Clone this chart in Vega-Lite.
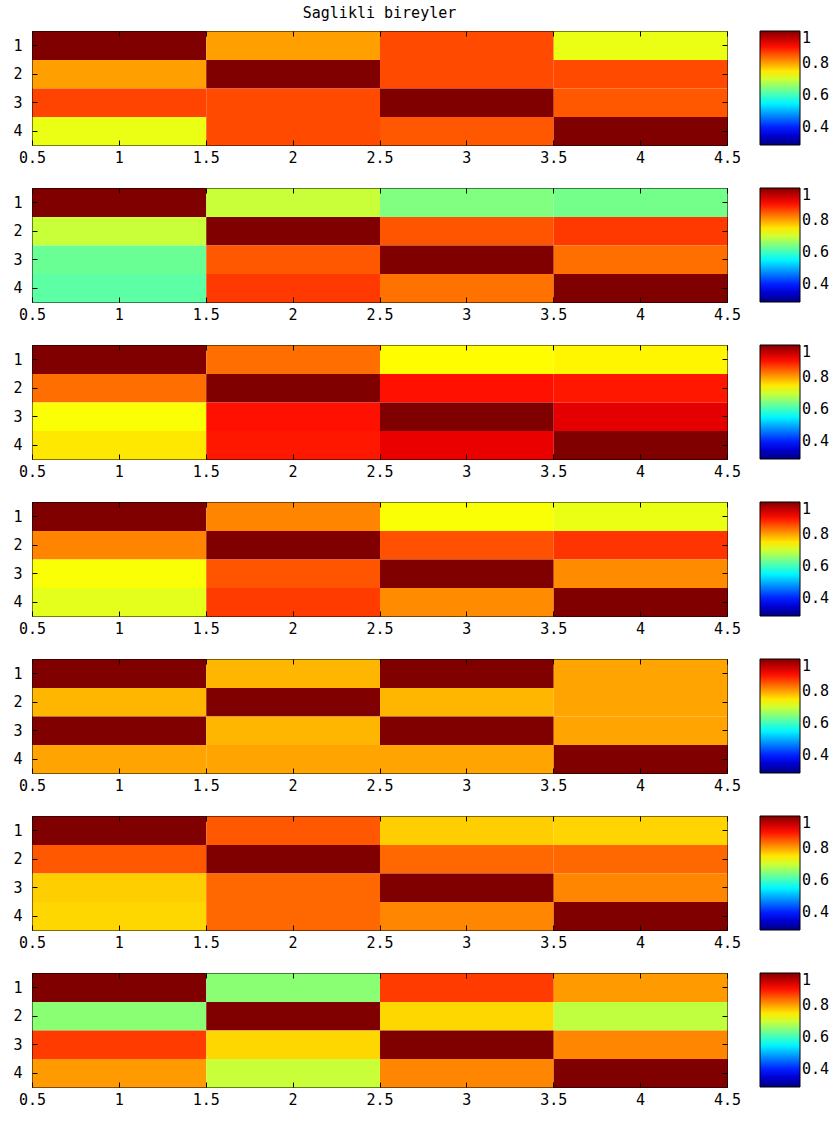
{
  "$schema": "https://vega.github.io/schema/vega-lite/v6.json",
  "background": "white",
  "padding": {"left": 12, "top": 5, "right": 0, "bottom": 0},
  "bounds": "flush",
  "spacing": 43,
  "datasets": {
    "m": [
      {"p":1,"y":1,"x":1,"v":1},{"p":1,"y":1,"x":2,"v":0.80},{"p":1,"y":1,"x":3,"v":0.86},{"p":1,"y":1,"x":4,"v":0.72},
      {"p":1,"y":2,"x":1,"v":0.80},{"p":1,"y":2,"x":2,"v":1},{"p":1,"y":2,"x":3,"v":0.86},{"p":1,"y":2,"x":4,"v":0.86},
      {"p":1,"y":3,"x":1,"v":0.865},{"p":1,"y":3,"x":2,"v":0.86},{"p":1,"y":3,"x":3,"v":1},{"p":1,"y":3,"x":4,"v":0.85},
      {"p":1,"y":4,"x":1,"v":0.72},{"p":1,"y":4,"x":2,"v":0.86},{"p":1,"y":4,"x":3,"v":0.85},{"p":1,"y":4,"x":4,"v":1},

      {"p":2,"y":1,"x":1,"v":1},{"p":2,"y":1,"x":2,"v":0.695},{"p":2,"y":1,"x":3,"v":0.645},{"p":2,"y":1,"x":4,"v":0.637},
      {"p":2,"y":2,"x":1,"v":0.695},{"p":2,"y":2,"x":2,"v":1},{"p":2,"y":2,"x":3,"v":0.852},{"p":2,"y":2,"x":4,"v":0.872},
      {"p":2,"y":3,"x":1,"v":0.63},{"p":2,"y":3,"x":2,"v":0.85},{"p":2,"y":3,"x":3,"v":1},{"p":2,"y":3,"x":4,"v":0.834},
      {"p":2,"y":4,"x":1,"v":0.62},{"p":2,"y":4,"x":2,"v":0.872},{"p":2,"y":4,"x":3,"v":0.832},{"p":2,"y":4,"x":4,"v":1},

      {"p":3,"y":1,"x":1,"v":1},{"p":3,"y":1,"x":2,"v":0.835},{"p":3,"y":1,"x":3,"v":0.735},{"p":3,"y":1,"x":4,"v":0.74},
      {"p":3,"y":2,"x":1,"v":0.835},{"p":3,"y":2,"x":2,"v":1},{"p":3,"y":2,"x":3,"v":0.90},{"p":3,"y":2,"x":4,"v":0.895},
      {"p":3,"y":3,"x":1,"v":0.73},{"p":3,"y":3,"x":2,"v":0.90},{"p":3,"y":3,"x":3,"v":1},{"p":3,"y":3,"x":4,"v":0.93},
      {"p":3,"y":4,"x":1,"v":0.75},{"p":3,"y":4,"x":2,"v":0.895},{"p":3,"y":4,"x":3,"v":0.925},{"p":3,"y":4,"x":4,"v":1},

      {"p":4,"y":1,"x":1,"v":1},{"p":4,"y":1,"x":2,"v":0.82},{"p":4,"y":1,"x":3,"v":0.73},{"p":4,"y":1,"x":4,"v":0.72},
      {"p":4,"y":2,"x":1,"v":0.82},{"p":4,"y":2,"x":2,"v":1},{"p":4,"y":2,"x":3,"v":0.855},{"p":4,"y":2,"x":4,"v":0.875},
      {"p":4,"y":3,"x":1,"v":0.73},{"p":4,"y":3,"x":2,"v":0.852},{"p":4,"y":3,"x":3,"v":1},{"p":4,"y":3,"x":4,"v":0.815},
      {"p":4,"y":4,"x":1,"v":0.715},{"p":4,"y":4,"x":2,"v":0.87},{"p":4,"y":4,"x":3,"v":0.815},{"p":4,"y":4,"x":4,"v":1},

      {"p":5,"y":1,"x":1,"v":1},{"p":5,"y":1,"x":2,"v":0.785},{"p":5,"y":1,"x":3,"v":1},{"p":5,"y":1,"x":4,"v":0.797},
      {"p":5,"y":2,"x":1,"v":0.785},{"p":5,"y":2,"x":2,"v":1},{"p":5,"y":2,"x":3,"v":0.785},{"p":5,"y":2,"x":4,"v":0.797},
      {"p":5,"y":3,"x":1,"v":1},{"p":5,"y":3,"x":2,"v":0.785},{"p":5,"y":3,"x":3,"v":1},{"p":5,"y":3,"x":4,"v":0.797},
      {"p":5,"y":4,"x":1,"v":0.797},{"p":5,"y":4,"x":2,"v":0.797},{"p":5,"y":4,"x":3,"v":0.797},{"p":5,"y":4,"x":4,"v":1},

      {"p":6,"y":1,"x":1,"v":1},{"p":6,"y":1,"x":2,"v":0.85},{"p":6,"y":1,"x":3,"v":0.768},{"p":6,"y":1,"x":4,"v":0.764},
      {"p":6,"y":2,"x":1,"v":0.85},{"p":6,"y":2,"x":2,"v":1},{"p":6,"y":2,"x":3,"v":0.84},{"p":6,"y":2,"x":4,"v":0.84},
      {"p":6,"y":3,"x":1,"v":0.768},{"p":6,"y":3,"x":2,"v":0.84},{"p":6,"y":3,"x":3,"v":1},{"p":6,"y":3,"x":4,"v":0.818},
      {"p":6,"y":4,"x":1,"v":0.762},{"p":6,"y":4,"x":2,"v":0.84},{"p":6,"y":4,"x":3,"v":0.818},{"p":6,"y":4,"x":4,"v":1},

      {"p":7,"y":1,"x":1,"v":1},{"p":7,"y":1,"x":2,"v":0.653},{"p":7,"y":1,"x":3,"v":0.87},{"p":7,"y":1,"x":4,"v":0.804},
      {"p":7,"y":2,"x":1,"v":0.653},{"p":7,"y":2,"x":2,"v":1},{"p":7,"y":2,"x":3,"v":0.762},{"p":7,"y":2,"x":4,"v":0.69},
      {"p":7,"y":3,"x":1,"v":0.87},{"p":7,"y":3,"x":2,"v":0.762},{"p":7,"y":3,"x":3,"v":1},{"p":7,"y":3,"x":4,"v":0.818},
      {"p":7,"y":4,"x":1,"v":0.804},{"p":7,"y":4,"x":2,"v":0.695},{"p":7,"y":4,"x":3,"v":0.818},{"p":7,"y":4,"x":4,"v":1}
    ]
  },
  "data": {"name": "m"},
  "resolve": {"scale": {"color": "independent"}, "legend": {"color": "independent"}},
  "vconcat": [
    {"title": {"text": "Saglikli bireyler", "frame": "group", "anchor": "middle", "offset": 10, "fontSize": 15, "font": "DejaVu Sans Mono", "fontWeight": "normal", "color": "black"},
     "width": 695, "height": 114, "resolve": {"axis": {"x": "independent", "y": "independent"}},
     "layer": [
      {"transform": [{"filter": "datum.p == 1"}], "mark": {"type": "rect", "binSpacing": 0},
       "encoding": {
        "x": {"field": "x", "type": "quantitative", "bin": {"extent": [0.5, 4.5], "step": 1, "nice": false}, "scale": {"domain": [0.5, 4.5], "nice": false, "zero": false}, "axis": {"orient": "bottom", "title": null, "values": [0.5, 1, 1.5, 2, 2.5, 3, 3.5, 4, 4.5], "format": "~g", "tickSize": -5, "labelPadding": 10, "labelFlush": false}},
        "y": {"field": "y", "type": "quantitative", "bin": {"extent": [0.5, 4.5], "step": 1, "nice": false}, "scale": {"domain": [0.5, 4.5], "nice": false, "zero": false, "reverse": true}, "axis": {"orient": "left", "title": null, "values": [1, 2, 3, 4], "format": "~g", "tickSize": -5, "labelPadding": 15}},
        "color": {"field": "v", "type": "quantitative", "scale": {"domain": [0.29, 0.37875, 0.4675, 0.55625, 0.645, 0.73375, 0.8225, 0.91125, 1.0], "range": ["#000080", "#0000ff", "#0080ff", "#00ffff", "#80ff80", "#ffff00", "#ff8000", "#ff0000", "#800000"], "interpolate": "rgb"}, "legend": {"values": [0.4, 0.6, 0.8, 1], "format": "~g"}}
       }},
      {"transform": [{"filter": "datum.p == 1"}], "mark": {"type": "rect", "opacity": 0, "binSpacing": 0},
       "encoding": {
        "x": {"field": "x", "type": "quantitative", "bin": {"extent": [0.5, 4.5], "step": 1, "nice": false}, "axis": {"orient": "top", "title": null, "values": [0.5, 1, 1.5, 2, 2.5, 3, 3.5, 4, 4.5], "labels": false, "tickSize": -5}},
        "y": {"field": "y", "type": "quantitative", "bin": {"extent": [0.5, 4.5], "step": 1, "nice": false}, "axis": {"orient": "right", "title": null, "values": [1, 2, 3, 4], "labels": false, "tickSize": -5}}
       }}
     ]},
    {"width": 695, "height": 114, "resolve": {"axis": {"x": "independent", "y": "independent"}},
     "layer": [
      {"transform": [{"filter": "datum.p == 2"}], "mark": {"type": "rect", "binSpacing": 0},
       "encoding": {
        "x": {"field": "x", "type": "quantitative", "bin": {"extent": [0.5, 4.5], "step": 1, "nice": false}, "scale": {"domain": [0.5, 4.5], "nice": false, "zero": false}, "axis": {"orient": "bottom", "title": null, "values": [0.5, 1, 1.5, 2, 2.5, 3, 3.5, 4, 4.5], "format": "~g", "tickSize": -5, "labelPadding": 10, "labelFlush": false}},
        "y": {"field": "y", "type": "quantitative", "bin": {"extent": [0.5, 4.5], "step": 1, "nice": false}, "scale": {"domain": [0.5, 4.5], "nice": false, "zero": false, "reverse": true}, "axis": {"orient": "left", "title": null, "values": [1, 2, 3, 4], "format": "~g", "tickSize": -5, "labelPadding": 15}},
        "color": {"field": "v", "type": "quantitative", "scale": {"domain": [0.29, 0.37875, 0.4675, 0.55625, 0.645, 0.73375, 0.8225, 0.91125, 1.0], "range": ["#000080", "#0000ff", "#0080ff", "#00ffff", "#80ff80", "#ffff00", "#ff8000", "#ff0000", "#800000"], "interpolate": "rgb"}, "legend": {"values": [0.4, 0.6, 0.8, 1], "format": "~g"}}
       }},
      {"transform": [{"filter": "datum.p == 2"}], "mark": {"type": "rect", "opacity": 0, "binSpacing": 0},
       "encoding": {
        "x": {"field": "x", "type": "quantitative", "bin": {"extent": [0.5, 4.5], "step": 1, "nice": false}, "axis": {"orient": "top", "title": null, "values": [0.5, 1, 1.5, 2, 2.5, 3, 3.5, 4, 4.5], "labels": false, "tickSize": -5}},
        "y": {"field": "y", "type": "quantitative", "bin": {"extent": [0.5, 4.5], "step": 1, "nice": false}, "axis": {"orient": "right", "title": null, "values": [1, 2, 3, 4], "labels": false, "tickSize": -5}}
       }}
     ]},
    {"width": 695, "height": 114, "resolve": {"axis": {"x": "independent", "y": "independent"}},
     "layer": [
      {"transform": [{"filter": "datum.p == 3"}], "mark": {"type": "rect", "binSpacing": 0},
       "encoding": {
        "x": {"field": "x", "type": "quantitative", "bin": {"extent": [0.5, 4.5], "step": 1, "nice": false}, "scale": {"domain": [0.5, 4.5], "nice": false, "zero": false}, "axis": {"orient": "bottom", "title": null, "values": [0.5, 1, 1.5, 2, 2.5, 3, 3.5, 4, 4.5], "format": "~g", "tickSize": -5, "labelPadding": 10, "labelFlush": false}},
        "y": {"field": "y", "type": "quantitative", "bin": {"extent": [0.5, 4.5], "step": 1, "nice": false}, "scale": {"domain": [0.5, 4.5], "nice": false, "zero": false, "reverse": true}, "axis": {"orient": "left", "title": null, "values": [1, 2, 3, 4], "format": "~g", "tickSize": -5, "labelPadding": 15}},
        "color": {"field": "v", "type": "quantitative", "scale": {"domain": [0.29, 0.37875, 0.4675, 0.55625, 0.645, 0.73375, 0.8225, 0.91125, 1.0], "range": ["#000080", "#0000ff", "#0080ff", "#00ffff", "#80ff80", "#ffff00", "#ff8000", "#ff0000", "#800000"], "interpolate": "rgb"}, "legend": {"values": [0.4, 0.6, 0.8, 1], "format": "~g"}}
       }},
      {"transform": [{"filter": "datum.p == 3"}], "mark": {"type": "rect", "opacity": 0, "binSpacing": 0},
       "encoding": {
        "x": {"field": "x", "type": "quantitative", "bin": {"extent": [0.5, 4.5], "step": 1, "nice": false}, "axis": {"orient": "top", "title": null, "values": [0.5, 1, 1.5, 2, 2.5, 3, 3.5, 4, 4.5], "labels": false, "tickSize": -5}},
        "y": {"field": "y", "type": "quantitative", "bin": {"extent": [0.5, 4.5], "step": 1, "nice": false}, "axis": {"orient": "right", "title": null, "values": [1, 2, 3, 4], "labels": false, "tickSize": -5}}
       }}
     ]},
    {"width": 695, "height": 114, "resolve": {"axis": {"x": "independent", "y": "independent"}},
     "layer": [
      {"transform": [{"filter": "datum.p == 4"}], "mark": {"type": "rect", "binSpacing": 0},
       "encoding": {
        "x": {"field": "x", "type": "quantitative", "bin": {"extent": [0.5, 4.5], "step": 1, "nice": false}, "scale": {"domain": [0.5, 4.5], "nice": false, "zero": false}, "axis": {"orient": "bottom", "title": null, "values": [0.5, 1, 1.5, 2, 2.5, 3, 3.5, 4, 4.5], "format": "~g", "tickSize": -5, "labelPadding": 10, "labelFlush": false}},
        "y": {"field": "y", "type": "quantitative", "bin": {"extent": [0.5, 4.5], "step": 1, "nice": false}, "scale": {"domain": [0.5, 4.5], "nice": false, "zero": false, "reverse": true}, "axis": {"orient": "left", "title": null, "values": [1, 2, 3, 4], "format": "~g", "tickSize": -5, "labelPadding": 15}},
        "color": {"field": "v", "type": "quantitative", "scale": {"domain": [0.29, 0.37875, 0.4675, 0.55625, 0.645, 0.73375, 0.8225, 0.91125, 1.0], "range": ["#000080", "#0000ff", "#0080ff", "#00ffff", "#80ff80", "#ffff00", "#ff8000", "#ff0000", "#800000"], "interpolate": "rgb"}, "legend": {"values": [0.4, 0.6, 0.8, 1], "format": "~g"}}
       }},
      {"transform": [{"filter": "datum.p == 4"}], "mark": {"type": "rect", "opacity": 0, "binSpacing": 0},
       "encoding": {
        "x": {"field": "x", "type": "quantitative", "bin": {"extent": [0.5, 4.5], "step": 1, "nice": false}, "axis": {"orient": "top", "title": null, "values": [0.5, 1, 1.5, 2, 2.5, 3, 3.5, 4, 4.5], "labels": false, "tickSize": -5}},
        "y": {"field": "y", "type": "quantitative", "bin": {"extent": [0.5, 4.5], "step": 1, "nice": false}, "axis": {"orient": "right", "title": null, "values": [1, 2, 3, 4], "labels": false, "tickSize": -5}}
       }}
     ]},
    {"width": 695, "height": 114, "resolve": {"axis": {"x": "independent", "y": "independent"}},
     "layer": [
      {"transform": [{"filter": "datum.p == 5"}], "mark": {"type": "rect", "binSpacing": 0},
       "encoding": {
        "x": {"field": "x", "type": "quantitative", "bin": {"extent": [0.5, 4.5], "step": 1, "nice": false}, "scale": {"domain": [0.5, 4.5], "nice": false, "zero": false}, "axis": {"orient": "bottom", "title": null, "values": [0.5, 1, 1.5, 2, 2.5, 3, 3.5, 4, 4.5], "format": "~g", "tickSize": -5, "labelPadding": 10, "labelFlush": false}},
        "y": {"field": "y", "type": "quantitative", "bin": {"extent": [0.5, 4.5], "step": 1, "nice": false}, "scale": {"domain": [0.5, 4.5], "nice": false, "zero": false, "reverse": true}, "axis": {"orient": "left", "title": null, "values": [1, 2, 3, 4], "format": "~g", "tickSize": -5, "labelPadding": 15}},
        "color": {"field": "v", "type": "quantitative", "scale": {"domain": [0.29, 0.37875, 0.4675, 0.55625, 0.645, 0.73375, 0.8225, 0.91125, 1.0], "range": ["#000080", "#0000ff", "#0080ff", "#00ffff", "#80ff80", "#ffff00", "#ff8000", "#ff0000", "#800000"], "interpolate": "rgb"}, "legend": {"values": [0.4, 0.6, 0.8, 1], "format": "~g"}}
       }},
      {"transform": [{"filter": "datum.p == 5"}], "mark": {"type": "rect", "opacity": 0, "binSpacing": 0},
       "encoding": {
        "x": {"field": "x", "type": "quantitative", "bin": {"extent": [0.5, 4.5], "step": 1, "nice": false}, "axis": {"orient": "top", "title": null, "values": [0.5, 1, 1.5, 2, 2.5, 3, 3.5, 4, 4.5], "labels": false, "tickSize": -5}},
        "y": {"field": "y", "type": "quantitative", "bin": {"extent": [0.5, 4.5], "step": 1, "nice": false}, "axis": {"orient": "right", "title": null, "values": [1, 2, 3, 4], "labels": false, "tickSize": -5}}
       }}
     ]},
    {"width": 695, "height": 114, "resolve": {"axis": {"x": "independent", "y": "independent"}},
     "layer": [
      {"transform": [{"filter": "datum.p == 6"}], "mark": {"type": "rect", "binSpacing": 0},
       "encoding": {
        "x": {"field": "x", "type": "quantitative", "bin": {"extent": [0.5, 4.5], "step": 1, "nice": false}, "scale": {"domain": [0.5, 4.5], "nice": false, "zero": false}, "axis": {"orient": "bottom", "title": null, "values": [0.5, 1, 1.5, 2, 2.5, 3, 3.5, 4, 4.5], "format": "~g", "tickSize": -5, "labelPadding": 10, "labelFlush": false}},
        "y": {"field": "y", "type": "quantitative", "bin": {"extent": [0.5, 4.5], "step": 1, "nice": false}, "scale": {"domain": [0.5, 4.5], "nice": false, "zero": false, "reverse": true}, "axis": {"orient": "left", "title": null, "values": [1, 2, 3, 4], "format": "~g", "tickSize": -5, "labelPadding": 15}},
        "color": {"field": "v", "type": "quantitative", "scale": {"domain": [0.29, 0.37875, 0.4675, 0.55625, 0.645, 0.73375, 0.8225, 0.91125, 1.0], "range": ["#000080", "#0000ff", "#0080ff", "#00ffff", "#80ff80", "#ffff00", "#ff8000", "#ff0000", "#800000"], "interpolate": "rgb"}, "legend": {"values": [0.4, 0.6, 0.8, 1], "format": "~g"}}
       }},
      {"transform": [{"filter": "datum.p == 6"}], "mark": {"type": "rect", "opacity": 0, "binSpacing": 0},
       "encoding": {
        "x": {"field": "x", "type": "quantitative", "bin": {"extent": [0.5, 4.5], "step": 1, "nice": false}, "axis": {"orient": "top", "title": null, "values": [0.5, 1, 1.5, 2, 2.5, 3, 3.5, 4, 4.5], "labels": false, "tickSize": -5}},
        "y": {"field": "y", "type": "quantitative", "bin": {"extent": [0.5, 4.5], "step": 1, "nice": false}, "axis": {"orient": "right", "title": null, "values": [1, 2, 3, 4], "labels": false, "tickSize": -5}}
       }}
     ]},
    {"width": 695, "height": 114, "resolve": {"axis": {"x": "independent", "y": "independent"}},
     "layer": [
      {"transform": [{"filter": "datum.p == 7"}], "mark": {"type": "rect", "binSpacing": 0},
       "encoding": {
        "x": {"field": "x", "type": "quantitative", "bin": {"extent": [0.5, 4.5], "step": 1, "nice": false}, "scale": {"domain": [0.5, 4.5], "nice": false, "zero": false}, "axis": {"orient": "bottom", "title": null, "values": [0.5, 1, 1.5, 2, 2.5, 3, 3.5, 4, 4.5], "format": "~g", "tickSize": -5, "labelPadding": 10, "labelFlush": false}},
        "y": {"field": "y", "type": "quantitative", "bin": {"extent": [0.5, 4.5], "step": 1, "nice": false}, "scale": {"domain": [0.5, 4.5], "nice": false, "zero": false, "reverse": true}, "axis": {"orient": "left", "title": null, "values": [1, 2, 3, 4], "format": "~g", "tickSize": -5, "labelPadding": 15}},
        "color": {"field": "v", "type": "quantitative", "scale": {"domain": [0.29, 0.37875, 0.4675, 0.55625, 0.645, 0.73375, 0.8225, 0.91125, 1.0], "range": ["#000080", "#0000ff", "#0080ff", "#00ffff", "#80ff80", "#ffff00", "#ff8000", "#ff0000", "#800000"], "interpolate": "rgb"}, "legend": {"values": [0.4, 0.6, 0.8, 1], "format": "~g"}}
       }},
      {"transform": [{"filter": "datum.p == 7"}], "mark": {"type": "rect", "opacity": 0, "binSpacing": 0},
       "encoding": {
        "x": {"field": "x", "type": "quantitative", "bin": {"extent": [0.5, 4.5], "step": 1, "nice": false}, "axis": {"orient": "top", "title": null, "values": [0.5, 1, 1.5, 2, 2.5, 3, 3.5, 4, 4.5], "labels": false, "tickSize": -5}},
        "y": {"field": "y", "type": "quantitative", "bin": {"extent": [0.5, 4.5], "step": 1, "nice": false}, "axis": {"orient": "right", "title": null, "values": [1, 2, 3, 4], "labels": false, "tickSize": -5}}
       }}
     ]}
  ],
  "config": {
    "view": {"stroke": "black", "strokeWidth": 1},
    "axis": {"domain": false, "grid": false, "labelFont": "DejaVu Sans Mono", "labelFontSize": 15, "labelColor": "black", "tickColor": "black", "tickWidth": 1, "labelOverlap": false},
    "legend": {"orient": "right", "direction": "vertical", "offset": 32, "padding": 0, "gradientLength": 114, "gradientThickness": 40, "gradientStrokeColor": "black", "gradientStrokeWidth": 1, "labelFont": "DejaVu Sans Mono", "labelFontSize": 15, "labelColor": "black", "labelOffset": 3, "labelOverlap": false, "title": null}
  }
}
